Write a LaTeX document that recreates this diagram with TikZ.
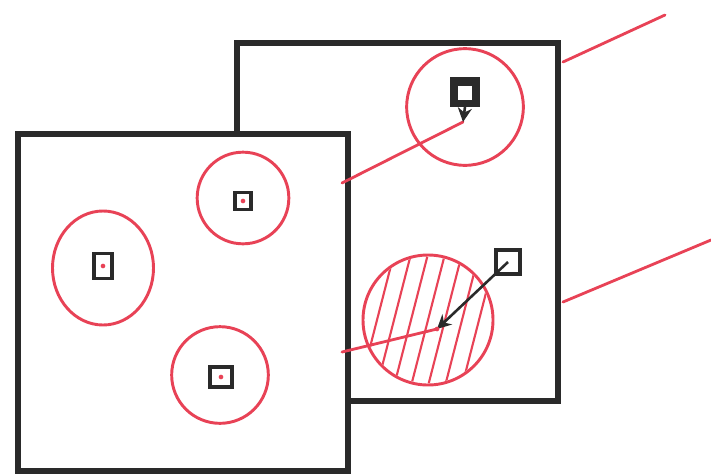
\documentclass[tikz,border=0pt]{standalone}
\usepackage{xcolor}
\usepackage{tikz}
\usetikzlibrary{shapes.geometric,arrows.meta,positioning}
\definecolor{pen}{RGB}{232,66,86}
\definecolor{ink}{RGB}{42,42,42}

\begin{document}
\begin{tikzpicture}[x=0.03cm,y=-0.03cm]
\tikzstyle{frame} = [rectangle, draw=ink, line width=5.2pt, fill=white, inner sep=0pt, anchor=north west]
\tikzstyle{spot} = [circle, draw=pen, line width=2.5pt, inner sep=0pt]
\tikzstyle{cell} = [rectangle, draw=ink, line width=3pt, inner sep=0pt]
\tikzstyle{dot} = [circle, fill=pen, inner sep=0pt, minimum size=4pt]
\tikzstyle{ray} = [draw=pen, line width=2.4pt, line cap=round]
\tikzstyle{move} = [draw=ink, line width=2.2pt, -{Stealth[length=12pt,width=12pt]}]

\useasboundingbox (0,0) rectangle (711,473);

 % back frame
 \node [frame, minimum width=9.63cm, minimum height=10.74cm] (back) at (234,40) {};
 \node [spot, minimum size=3.5cm] (upper) at (465,107) {};
 \node [cell, fill=ink, minimum size=0.78cm] (sqA) at (465,92) {};
 \node [rectangle, fill=white, minimum width=0.4cm, minimum height=0.4cm, inner sep=0pt] (gap) at (465,93) {};
 \coordinate (tipA) at (463,122);
 \node [spot, minimum size=3.9cm] (hot) at (428,320) {};
 \begin{scope}
  \clip (428,320) circle [radius=1.9cm];
  \foreach \k in {-4,...,4}
   \draw [ray, line width=1.8pt] (446+\k*17,250) -- ++(-36,140);
 \end{scope}
 \node [cell, minimum size=0.72cm] (sqB) at (508,262) {};
 \coordinate (tipB) at (437,329);

 % front frame
 \node [frame, minimum width=9.9cm, minimum height=10.11cm] (front) at (15,131) {};
 \node [spot, minimum size=2.75cm] (top) at (243,198) {};
 \node [spot, ellipse, minimum width=3.03cm, minimum height=3.42cm] (left) at (103,268) {};
 \node [spot, minimum size=2.9cm] (low) at (220,375) {};
 \node [cell, minimum width=0.48cm, minimum height=0.5cm] (sq1) at (243,201) {};
 \node [cell, minimum width=0.55cm, minimum height=0.75cm] (sq2) at (103,266) {};
 \node [cell, minimum width=0.66cm, minimum height=0.6cm] (sq3) at (221,377) {};
 \node [dot] (d1) at (sq1) {};
 \node [dot] (d2) at (sq2) {};
 \node [dot] (d3) at (sq3) {};

 % rays
 \coordinate (exitA) at (342,183);
 \coordinate (exitB) at (342,352);
 \coordinate (outA) at (563,62);
 \coordinate (farA) at (665,15);
 \coordinate (outB) at (563,302);
 \coordinate (farB) at (711,240);
 \path [ray] (exitA) -- (tipA);
 \path [ray] (exitB) -- (tipB);
 \path [ray] (outA) -- (farA);
 \path [ray] (outB) -- (farB);
 \path [move] (sqA.south) -- (tipA);
 \path [move] (sqB.center) -- (tipB);
 \node [dot] (dB) at (tipB) {};
\end{tikzpicture}
\end{document}
